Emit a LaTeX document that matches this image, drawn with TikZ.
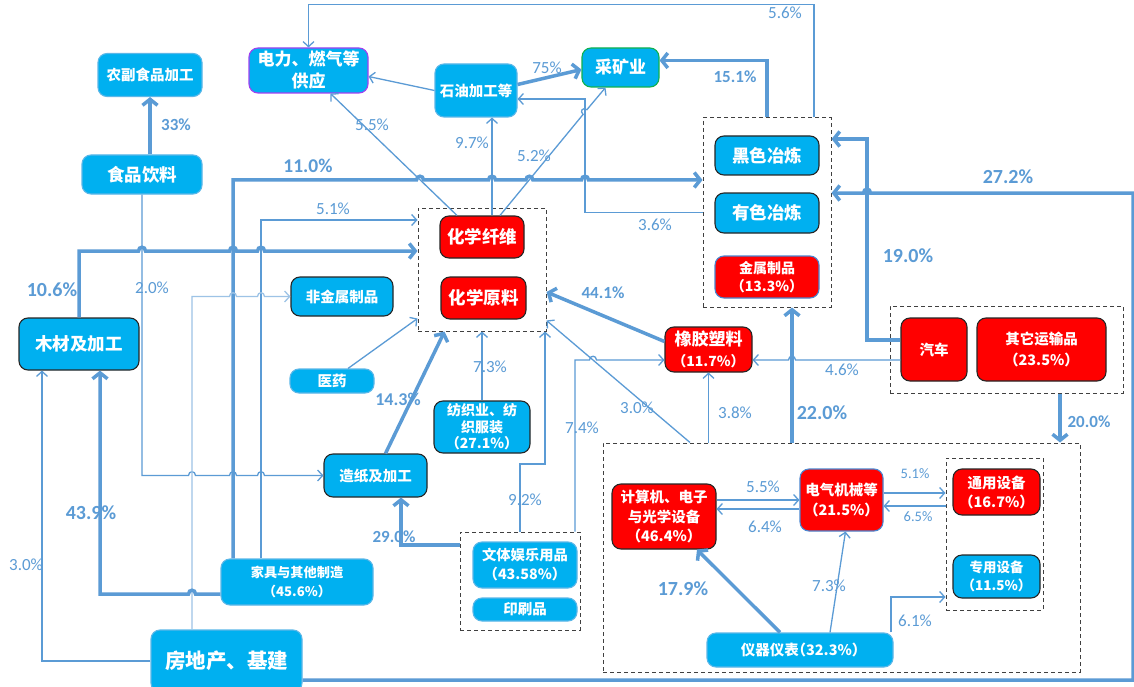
\documentclass[tikz,border=0pt]{standalone}
\usepackage{fontspec}
\setmainfont{Carlito}
\newfontfamily\cjk{Noto Sans CJK SC}
\newfontfamily\cjkp[RawFeature=+halt]{Noto Sans CJK SC}
\usetikzlibrary{arrows.meta}
\definecolor{ln}{HTML}{5B9BD5}
\definecolor{lnl}{HTML}{9DC3E6}
\definecolor{cyanf}{HTML}{00B0F0}
\definecolor{redf}{HTML}{FF0000}
\definecolor{darkb}{HTML}{262626}
\definecolor{lightb}{HTML}{5BB7E8}
\definecolor{blueb}{HTML}{4A86D0}
\definecolor{purpb}{HTML}{A040F0}
\definecolor{greenb}{HTML}{10B050}
\definecolor{dashc}{HTML}{404040}
\newcommand\pctl[1]{{\cjkp （#1\%）}}
\begin{document}
\begin{tikzpicture}[x=1pt,y=-1pt,
  nd/.style={rounded corners=9pt, align=center, text=white, inner sep=0pt, line width=1.1pt},
  fs/.style 2 args={font=\cjk\bfseries\fontsize{#1}{#2}\selectfont},
  cy/.style={nd, fill=cyanf},
  rd/.style={nd, fill=redf},
  bd/.style={draw=darkb},
  bl/.style={draw=lightb},
  grp/.style={draw=dashc, line width=1pt, dash pattern=on 4pt off 3pt, inner sep=0pt},
  thin/.style={draw=ln, line width=1.3pt, -{Straight Barb[length=5pt,width=11pt]}},
  thinl/.style={draw=lnl, line width=1.3pt, -{Straight Barb[length=5pt,width=11pt]}},
  thk/.style={draw=ln, line width=3.5pt, -{Straight Barb[length=6pt,width=15pt]}},
  lab/.style={text=ln, inner sep=0pt, font=\fontsize{17}{17}\selectfont},
  labs/.style={text=ln, inner sep=0pt, font=\fontsize{14.5}{14.5}\selectfont},
  labb/.style={text=ln, inner sep=0pt, font=\bfseries\fontsize{#1}{#1}\selectfont},
  hop/.style 2 args={insert path={-- (#1-3.5,#2) .. controls (#1-3.5,#2-5) and (#1+3.5,#2-5) .. (#1+3.5,#2)}},
  hopl/.style 2 args={insert path={-- (#1+3.5,#2) .. controls (#1+3.5,#2-5) and (#1-3.5,#2-5) .. (#1-3.5,#2)}}
]
\fill[white] (0,0) rectangle (1134,687);
\useasboundingbox (0,0) rectangle (1134,687);

% group boxes
\node[grp, minimum width=128pt, minimum height=189pt] (gmet) at (767,212.5) {};
\node[grp, minimum width=128pt, minimum height=123pt] (gchem) at (482,269.5) {};
\node[grp, minimum width=233pt, minimum height=87pt] (gtr) at (1006.5,349.5) {};
\node[grp, minimum width=120pt, minimum height=98pt] (gwt) at (520,581) {};
\node[grp, minimum width=477pt, minimum height=229pt] (gbig) at (841.5,557.5) {};
\node[grp, minimum width=97pt, minimum height=152pt] (ginner) at (994.5,534) {};

% nodes
\node[cy, bl, minimum width=104pt, minimum height=43pt, fs={14.5}{17}] (nfsp) at (150,75) {农副食品加工};
\node[cy, bl, minimum width=120pt, minimum height=39pt, fs={17.5}{20}] (spyl) at (142,174.5) {食品饮料};
\node[cy, draw=purpb, minimum width=119pt, minimum height=45pt, fs={17}{22}] (dl) at (308.5,70.5) {电力、燃气等\\供应};
\node[cy, bl, minimum width=82pt, minimum height=53pt, fs={14.5}{17}] (sy) at (476,90.5) {石油加工等};
\node[cy, draw=greenb, minimum width=77pt, minimum height=39pt, fs={17}{20}] (ck) at (620.5,67.5) {采矿业};
\node[cy, bd, minimum width=104pt, minimum height=39pt, fs={17.5}{20}] (hs) at (767,155.5) {黑色冶炼};
\node[cy, bd, minimum width=104pt, minimum height=40pt, fs={17.5}{20}] (ys) at (767,213) {有色冶炼};
\node[rd, draw=blueb, minimum width=104pt, minimum height=42pt, fs={14}{18}] (jsz) at (767,277) {金属制品\\\pctl{13.3}};
\node[rd, bd, minimum width=84pt, minimum height=42pt, fs={17.5}{20}] (hx) at (482,237) {化学纤维};
\node[rd, bd, minimum width=85pt, minimum height=42pt, fs={17.5}{20}] (hy) at (483.5,298) {化学原料};
\node[cy, bd, minimum width=102pt, minimum height=39pt, fs={14.5}{17}] (fjs) at (342,296.5) {非金属制品};
\node[cy, bl, minimum width=84pt, minimum height=24pt, fs={14.5}{17}] (yy) at (332,381) {医药};
\node[cy, bd, minimum width=120pt, minimum height=52pt, fs={17.5}{20}] (mc) at (79,344) {木材及加工};
\node[cy, bd, minimum width=96pt, minimum height=52pt, fs={14}{16.5}] (fz) at (482,427) {纺织业、纺\\织服装\\\pctl{27.1}};
\node[cy, bd, minimum width=103pt, minimum height=43pt, fs={14.5}{17}] (zz) at (375.5,475.5) {造纸及加工};
\node[rd, bd, minimum width=87pt, minimum height=45pt, fs={17}{21}] (xj) at (708.5,349.5) {橡胶塑料\\{\fontsize{14}{14}\selectfont\pctl{11.7}}};
\node[rd, bd, minimum width=66pt, minimum height=63pt, fs={14.5}{17}] (qc) at (934,349.5) {汽车};
\node[rd, bd, minimum width=129pt, minimum height=63pt, fs={14.5}{21}] (qt) at (1041.5,349.5) {其它运输品\\\pctl{23.5}};
\node[cy, bl, minimum width=152pt, minimum height=46pt, fs={13.2}{19}] (jj) at (297,582) {家具与其他制造\\\pctl{45.6}};
\node[cy, bl, minimum width=151pt, minimum height=62pt, fs={20.5}{23}] (fdc) at (226.5,661) {房地产、基建};
\node[cy, bl, minimum width=104pt, minimum height=46pt, fs={14.3}{19}] (wt) at (525,565) {文体娱乐用品\\\pctl{43.58}};
\node[cy, bl, minimum width=104pt, minimum height=23pt, fs={14.5}{17}] (ysp) at (525,609.5) {印刷品};
\node[rd, bd, minimum width=104pt, minimum height=65pt, fs={14.5}{19.5}] (js2) at (664,516.5) {计算机、电子\\与光学设备\\\pctl{46.4}};
\node[rd, draw=blueb, minimum width=83pt, minimum height=62pt, fs={14.5}{19.5}] (dq) at (841.5,500) {电气机械等\\\pctl{21.5}};
\node[rd, bd, minimum width=87pt, minimum height=46pt, fs={14.5}{19}] (ty) at (996.5,492) {通用设备\\\pctl{16.7}};
\node[cy, bd, minimum width=87pt, minimum height=43pt, fs={13.5}{18}] (zy) at (996.5,576.5) {专用设备\\\pctl{11.5}};
\node[cy, bl, minimum width=186pt, minimum height=34pt, fs={14.5}{17}] (yq) at (800,650) {仪器仪表\pctl{32.3}};

% coordinates
\coordinate (ckE) at ([yshift=7pt]ck.east);
\coordinate (hxA) at ([xshift=10pt]hx.north);
\coordinate (c36) at (585,99);
\coordinate (jjA) at ([xshift=-64pt]jj.north);
\coordinate (c110) at (233,180);
\coordinate (jjB) at ([xshift=-36pt]jj.north);
\coordinate (c51) at (261,220);
\coordinate (c106) at (79,251);
\coordinate (fdcA) at ([xshift=-34.5pt]fdc.north);
\coordinate (jjW) at ([yshift=-12pt]jj.west);
\coordinate (mcB) at ([xshift=21pt]mc.south);
\coordinate (mcC) at ([xshift=-37pt]mc.south);
\coordinate (fdcE) at ([yshift=-19pt]fdc.east);
\coordinate (c272) at (1133,193);
\coordinate (qcA) at ([yshift=9.5pt]qc.west);
\coordinate (c190) at (867,139);
\coordinate (qcB) at ([yshift=-10.5pt]qc.west);
\coordinate (c220) at ([xshift=-49.5pt]gbig.north);
\coordinate (bigA) at ([xshift=-151.5pt]gbig.north);
\coordinate (wtA) at ([xshift=55pt]gwt.north);
\coordinate (c74) at (575,360);
\coordinate (c92) at (545,464);
\coordinate (wtW) at ([yshift=36pt]gwt.west);
\coordinate (zzB) at ([xshift=25.5pt]zz.south);
\coordinate (trB) at ([xshift=53.5pt]gtr.south);
\coordinate (dqW) at ([yshift=-9pt]dq.west);
\coordinate (dqE) at ([yshift=7pt]dq.east);
\coordinate (dqF) at ([yshift=-6pt]dq.east);
\coordinate (yqA) at ([xshift=91pt]yq.north);
\coordinate (c61) at (891,597);

% connectors
\draw[thk] (nfsp.south |- spyl.north) -- (nfsp.south);
\draw[thin] (spyl.south) -- (spyl.south |- zz.west) [hop={192}{475.5}] [hop={233}{475.5}] [hop={261}{475.5}] -- (zz.west);
\draw[thin] (sy.west) -- ([yshift=-6pt]dl.east);
\draw[thk] ([yshift=6pt]sy.east) -- ([yshift=-2pt]ck.west);
\draw[thk] (gmet.north) |- (ckE);
\draw[thin] ([xshift=47pt]gmet.north) -- ++(0,-113) -| (dl.north);
\draw[thin] ([xshift=-25pt]hx.north) -- ([xshift=22pt]dl.south);
\draw[thin] (hxA) -- (hxA |- sy.south);
\draw[thin] ([xshift=18pt]hx.north) -- (583.1,114.4) .. controls (579.2,111.2) and (583,106.6) .. (586.9,109.7) -- ([xshift=-15pt]ck.south);
\draw[thin] (gmet.west) -| (c36) -- (c36 -| sy.east);
\draw[thk] (jjA) -- (c110) [hop={420}{180}] [hop={492}{180}] [hop={529.4}{180}] [hop={585}{180}] -- (c110 -| gmet.west);
\draw[thin] (jjB) -- (c51) -- (c51 -| gchem.west);
\draw[thk] (mc.north) -- (c106) [hop={142}{251}] [hop={233}{251}] [hop={261}{251}] -- (c106 -| gchem.west);
\draw[thinl] (fdcA) -- (fdcA |- fjs.west) [hop={233}{296.5}] [hop={261}{296.5}] -- (fjs.west);
\draw[thin] ([xshift=16pt]yy.north) -- ([yshift=13pt]gchem.south west);
\draw[thk] ([xshift=10pt]zz.north) -- ([xshift=27pt]gchem.south west);
\draw[thin] (fz.north) -- (fz.north |- gchem.south);
\draw[thin] (gwt.north) |- (c92) -- (c92 |- gchem.south);
\draw[thin] (wtA) -- (c74) [hop={593}{360}] -- (c74 -| xj.west);
\draw[thin] (bigA) -- ([yshift=11pt]gchem.south east);
\draw[thin] (xj.south |- gbig.north) -- (xj.south);
\draw[thk] ([yshift=8pt]xj.west) -- ([yshift=-22.5pt]gchem.east);
\draw[thk] (c220) -- (c220 |- gmet.south);
\draw[thin] (qcB) [hopl={792}{360}] -- (qcB -| xj.east);
\draw[thk] (qcA) -- (qcA -| c190) -- (c190) -- (c190 -| gmet.east);
\draw[thk] (fdcE) -- (fdcE -| c272) -- (c272) [hopl={867}{193}] -- (c272 -| gmet.east);
\draw[thk] (trB) -- (trB |- gbig.north);
\draw[thk] (wtW) -| (zzB);
\draw[thk] (jjW) [hopl={192}{594}] -- (jjW -| mcB) -- (mcB);
\draw[thin] (fdc.west) -| (mcC);
\draw[thk] ([xshift=-20pt]yq.north) -- ([xshift=33pt]js2.south);
\draw[thin] (js2.east |- dq.west) -- (dq.west);
\draw[thin] (dqW) -- (dqW -| js2.east);
\draw[thin] (dqE) -- (dqE -| ginner.west);
\draw[thin] (dqF -| ginner.west) -- (dqF);
\draw[thin] ([xshift=30pt]yq.north) -- ([xshift=4pt]dq.south);
\draw[thin] (yqA) -- (c61) -- (c61 -| ginner.west);

% labels
\node[labb=17] (t33) at (176,125) {33\%};
\node[lab] (t20a) at (152,288) {2.0\%};
\node[lab] (t75) at (547,68) {75\%};
\node[labb=17] (t151) at (735,77) {15.1\%};
\node[lab] (t56) at (785,13) {5.6\%};
\node[lab] (t55a) at (372,125) {5.5\%};
\node[lab] (t97) at (472,143) {9.7\%};
\node[lab] (t52) at (534,156) {5.2\%};
\node[lab] (t36) at (655,225) {3.6\%};
\node[labb=19.5] (t110) at (308,166) {11.0\%};
\node[lab] (t51a) at (333,209) {5.1\%};
\node[labb=20] (t106) at (52,290) {10.6\%};
\node[labb=18] (t143) at (398,399) {14.3\%};
\node[lab] (t73a) at (490,367) {7.3\%};
\node[lab] (t92) at (525,500) {9.2\%};
\node[lab] (t74) at (582,428) {7.4\%};
\node[lab] (t30a) at (637,408) {3.0\%};
\node[lab] (t38) at (735,413) {3.8\%};
\node[labb=17] (t441) at (603,293) {44.1\%};
\node[labb=20] (t220) at (822,413) {22.0\%};
\node[lab] (t46) at (842,370) {4.6\%};
\node[labb=20] (t190) at (908,256) {19.0\%};
\node[labb=20] (t272) at (1008,177) {27.2\%};
\node[labb=17] (t200) at (1089,422) {20.0\%};
\node[labb=17] (t290) at (394,537) {29.0\%};
\node[labb=20] (t439) at (91,513) {43.9\%};
\node[lab] (t30b) at (26,565) {3.0\%};
\node[labb=20] (t179) at (683,589) {17.9\%};
\node[lab] (t55b) at (763,487) {5.5\%};
\node[lab] (t64) at (765,527) {6.4\%};
\node[labs] (t51b) at (915,474) {5.1\%};
\node[labs] (t65) at (918,517) {6.5\%};
\node[lab] (t73b) at (829,586) {7.3\%};
\node[lab] (t61) at (915,621) {6.1\%};
\end{tikzpicture}
\end{document}
